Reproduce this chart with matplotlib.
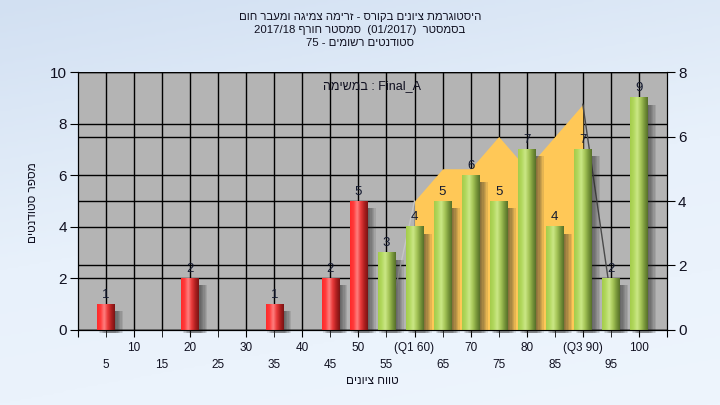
import numpy as np
import matplotlib
matplotlib.use("Agg")
import matplotlib.pyplot as plt
from matplotlib.colors import LinearSegmentedColormap
from matplotlib.patches import Rectangle

plt.rcParams['font.family'] = ['Liberation Sans', 'DejaVu Sans']

# data
grades = [5, 10, 15, 20, 25, 30, 35, 40, 45, 50, 55, 60, 65, 70, 75, 80, 85, 90, 95, 100]
counts = [1, 0, 0, 2, 0, 0, 1, 0, 2, 5, 3, 4, 5, 6, 5, 7, 4, 7, 2, 9]
tick_labels = ['5', '10', '15', '20', '25', '30', '35', '40', '45', '50',
               '55', '(Q1 60)', '65', '70', '75', '80', '85', '(Q3 90)', '95', '100']
pass_grade = 55
# secondary series (right axis)
area_x = [55, 60, 65, 70, 75, 80, 85, 90, 95]
area_y = [0, 4, 5, 5, 6, 5, 6, 7, 1]
q1, q3 = 60, 90

# text (visual order, right-to-left already applied)
title_lines = ["םוח רבעמו הגימצ המירז - סרוקב םינויצ תמרגוטסיה",
               "2017/18 ףרוח רטסמס  (01/2017)  רטסמסב",
               "75 - םימושר םיטנדוטס"]
ylabel = "םיטנדוטס רפסמ"
xlabel = "םינויצ חווט"
task_label = "המישמב : Final_A"

fig = plt.figure(figsize=(7.2, 4.05), dpi=100)

# background gradient
bg = fig.add_axes([0, 0, 1, 1], zorder=-10)
bg_cmap = LinearSegmentedColormap.from_list('bg', ['#d2e0f2', '#e8f1fb', '#eef5fd'])
yy, xx = np.mgrid[0:1:200j, 0:1:200j]
bg.imshow(0.75 * yy + 0.25 * xx, cmap=bg_cmap, aspect='auto', extent=[0, 1, 1, 0])
bg.axis('off')

ax2 = fig.add_axes([0.1083, 0.1852, 0.818, 0.637])
ax = ax2.twinx()
ax.yaxis.tick_left()
ax.yaxis.set_label_position('left')
ax2.yaxis.tick_right()
ax.set_zorder(ax2.get_zorder() + 1)
ax.patch.set_visible(False)
ax2.set_facecolor('#b4b4b4')

ax.set_xlim(0, 105)
ax.set_ylim(0, 10)
ax2.set_ylim(0, 8)

# grids
for a, ticks in ((ax, np.arange(0, 11, 2)), (ax2, np.arange(0, 9, 2))):
    a.set_yticks(ticks)
    for t in ticks:
        a.axhline(t, color='black', lw=1, zorder=0.5)
for g in grades:
    ax.axvline(g, color='black', lw=1, zorder=0.5)

# quartile area on right scale
xs = np.array(area_x)
ys = np.array(area_y)
m = (xs >= q1) & (xs <= q3)
ax.fill_between(xs[m], 0, ys[m], color='#ffc857', lw=0, zorder=1, transform=ax2.transData)
ax.plot(xs[xs <= q1], ys[xs <= q1], color='#c6c6c6', lw=1, zorder=1.1, transform=ax2.transData)
ax.plot(xs[xs >= q3], ys[xs >= q3], color='#4a4a4a', lw=1, zorder=1.1, transform=ax2.transData)

red_cmap = LinearSegmentedColormap.from_list('red', ['#ff2a2a', '#ff3c3c', '#ff8080', '#e83a3a', '#b02020', '#7a1414'])
green_cmap = LinearSegmentedColormap.from_list('green', ['#a4cc4c', '#b2d85e', '#cbe786', '#a8c85a', '#7c9a3c', '#56702a'])
grad = np.linspace(0, 1, 64).reshape(1, -1)

w = 3.1
for g, c in zip(grades, counts):
    if c == 0:
        continue
    # soft shadow
    for dx in np.linspace(0.3, 1.5, 6):
        ax.add_patch(Rectangle((g - w / 2 + dx, -0.12), w, c - 0.15, color='#2a2a2a',
                               alpha=0.12, lw=0, zorder=1.5, clip_on=False))
    cmap = green_cmap if g >= pass_grade else red_cmap
    ax.imshow(grad, cmap=cmap, aspect='auto', extent=[g - w / 2, g + w / 2, 0, c], zorder=2)
    ax.annotate(str(c), (g, c), xytext=(0, 2.5), textcoords='offset points', ha='center',
                va='bottom', fontsize=9.5, color='#141a30', zorder=3)

ax.set_xlim(0, 105)
ax.set_ylim(0, 10)

# x ticks: two rows (the shared x axis is drawn by ax2)
ax2.set_xticks([0] + grades[1::2] + [105])
ax2.set_xticklabels([''] + tick_labels[1::2] + [''])
ax2.set_xticks(grades[0::2], minor=True)
ax2.set_xticklabels(tick_labels[0::2], minor=True)
ax2.tick_params(axis='x', which='major', length=5, pad=3.5, labelsize=8.5, labelcolor='#101020')
ax2.tick_params(axis='x', which='minor', length=5, pad=16, labelsize=8.5, labelcolor='#101020')
ax.tick_params(axis='y', length=6, labelsize=11, pad=2, labelcolor='#101020')
ax2.tick_params(axis='y', length=6, labelsize=11, pad=2, labelcolor='#101020')

for a in (ax, ax2):
    for s in a.spines.values():
        s.set_color('black')
ax.spines['top'].set_visible(False)
ax2.spines['top'].set_visible(False)

ax.text(0.5, 0.946, task_label, transform=ax.transAxes, ha='center', va='center',
        fontsize=9, color='#101020', zorder=4)

ys_t = [0.958, 0.926, 0.894]
for line, yt in zip(title_lines, ys_t):
    fig.text(0.5, yt, line, ha='center', va='center', fontsize=8.2, color='#101020')
fig.text(33 / 720, 0.5, ylabel, rotation=90, ha='center', va='center', fontsize=8.5, color='#101020')
fig.text(372.5 / 720, 1 - 381 / 405, xlabel, ha='center', va='center', fontsize=8.5, color='#101020')

fig.savefig('out.png', dpi=100)
